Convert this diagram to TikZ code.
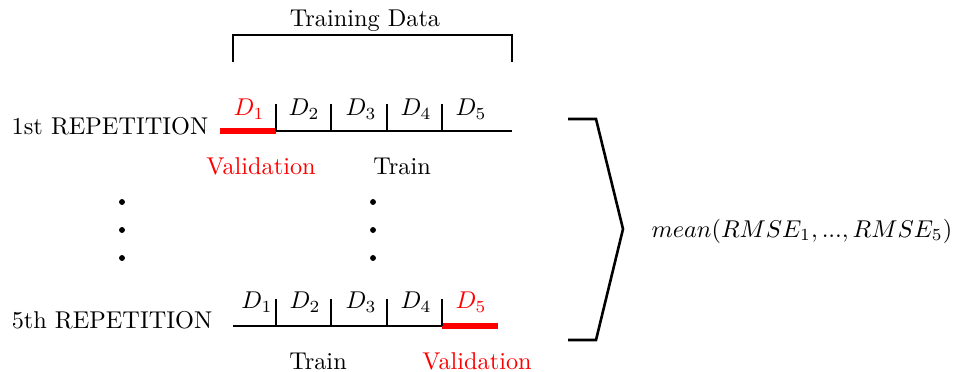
\documentclass[tikz,border=0pt]{standalone}
\begin{document}
\begin{tikzpicture}[x=0.4219pt,y=-0.4219pt,
  lbl/.style={inner sep=0pt,scale=1.025},
  redlbl/.style={lbl,text=red},
  blk/.style={line width=1.1pt},
  val/.style={red,line width=2.5pt},
  dotn/.style={circle,fill=black,inner sep=0pt,minimum size=2.5pt}]
\useasboundingbox (0,0) rectangle (955,372);
% Training data bracket
\node[lbl] (td) at (365,21) {Training Data};
\coordinate (tdL) at (233,62);
\coordinate (tdR) at (512,62);
\draw[blk] (tdL) -- (tdL |- 0,35) -- (tdR |- 0,35) -- (tdR);
% Row 1
\node[lbl] (rep1) at (110,126) {1st REPETITION};
\coordinate (a0) at (220,131);
\coordinate (a1) at (276,131);
\coordinate (a2) at (331,131);
\coordinate (a3) at (387,131);
\coordinate (a4) at (442,131);
\coordinate (a5) at (512,131);
\draw[val] (a0) -- (a1);
\draw[blk] (a1) -- (a5);
\foreach \t in {a1,a2,a3,a4}{\draw[blk] (\t) -- ++(0,-27);}
\node[redlbl] (d11) at (249,109) {$D_1$};
\node[lbl] (d12) at (304,109) {$D_2$};
\node[lbl] (d13) at (361,109) {$D_3$};
\node[lbl] (d14) at (416,109) {$D_4$};
\node[lbl] (d15) at (471,109) {$D_5$};
\node[redlbl] (v1) at (261,166) {Validation};
\node[lbl] (t1) at (402,166) {Train};
% Dots
\node[dotn] (da1) at (122,202) {};
\node[dotn] (da2) at (122,230) {};
\node[dotn] (da3) at (122,258) {};
\node[dotn] (db1) at (373,202) {};
\node[dotn] (db2) at (373,230) {};
\node[dotn] (db3) at (373,258) {};
% Row 5
\node[lbl] (rep5) at (112,320) {5th REPETITION};
\coordinate (b0) at (233,326);
\coordinate (b1) at (276,326);
\coordinate (b2) at (331,326);
\coordinate (b3) at (387,326);
\coordinate (b4) at (442,326);
\coordinate (b5) at (498,326);
\draw[blk] (b0) -- (b4);
\draw[val] (b4) -- (b5);
\foreach \t in {b1,b2,b3,b4}{\draw[blk] (\t) -- ++(0,-27);}
\node[lbl] (d51) at (257,302) {$D_1$};
\node[lbl] (d52) at (305,302) {$D_2$};
\node[lbl] (d53) at (361,302) {$D_3$};
\node[lbl] (d54) at (416,302) {$D_4$};
\node[redlbl] (d55) at (471,302) {$D_5$};
\node[lbl] (t5) at (318,361) {Train};
\node[redlbl] (v5) at (477,361) {Validation};
% Right bracket
\coordinate (r0) at (568,119);
\coordinate (r1) at (596,119);
\coordinate (r2) at (623,229);
\coordinate (r3) at (596,340);
\coordinate (r4) at (568,340);
\draw[blk] (r0) -- (r1) -- (r2) -- (r3) -- (r4);
\node[lbl,anchor=west] (mean) at (651,231) {$mean(RMSE_1,...,RMSE_5)$};
\end{tikzpicture}
\end{document}
